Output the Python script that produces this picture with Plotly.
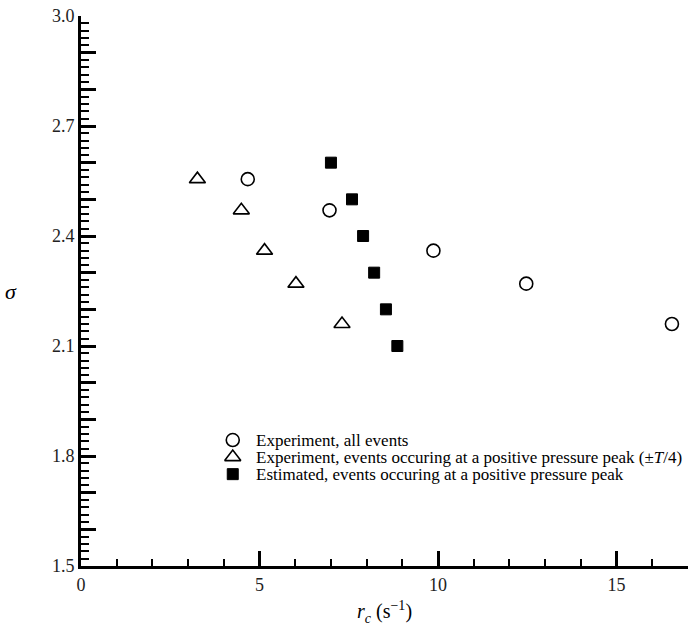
import plotly.graph_objects as go

# ---- data ----
exp_all_rc = [4.67, 6.96, 9.87, 12.47, 16.55]
exp_all_sigma = [2.555, 2.47, 2.36, 2.27, 2.16]

exp_peak_rc = [3.26, 4.49, 5.14, 6.02, 7.31]
exp_peak_sigma = [2.555, 2.47, 2.36, 2.27, 2.16]

est_peak_rc = [7.0, 7.59, 7.9, 8.21, 8.54, 8.86]
est_peak_sigma = [2.6, 2.5, 2.4, 2.3, 2.2, 2.1]

legend_labels = [
    "Experiment, all events",
    "Experiment, events occuring at a positive pressure peak (±<i>T</i>/4)",
    "Estimated, events occuring at a positive pressure peak",
]

y_major = [round(1.5 + 0.1 * i, 1) for i in range(16)]
y_text = [f"{v:.1f}" if i % 3 == 0 else "" for i, v in enumerate(y_major)]
x_major = [0, 5, 10, 15]
x_text = ["0", "5", "10", "15"]

FONT = "Liberation Serif"

circle_style = dict(symbol="circle-open", size=13, color="black", line=dict(width=1.6, color="black"))
tri_style = dict(symbol="triangle-up-open", size=14, color="black", line=dict(width=1.6, color="black"))
sq_style = dict(symbol="square", size=11, color="black", line=dict(width=1, color="black"))

fig = go.Figure()
fig.add_trace(go.Scatter(x=exp_all_rc, y=exp_all_sigma, mode="markers", marker=circle_style, showlegend=False))
fig.add_trace(go.Scatter(x=exp_peak_rc, y=exp_peak_sigma, mode="markers", marker=tri_style, showlegend=False))
fig.add_trace(go.Scatter(x=est_peak_rc, y=est_peak_sigma, mode="markers", marker=sq_style, showlegend=False))

# legend glyphs on an overlay axis (0..1 coordinates)
leg_y = [0.229, 0.198, 0.167]
leg_x_marker = 0.25
leg_x_text = 0.285
for st, ly in zip([circle_style, tri_style, sq_style], leg_y):
    fig.add_trace(go.Scatter(x=[leg_x_marker], y=[ly], mode="markers", marker=st,
                             xaxis="x2", yaxis="y2", showlegend=False, hoverinfo="skip"))
for lab, ly in zip(legend_labels, leg_y):
    fig.add_annotation(x=leg_x_text, y=ly, xref="paper", yref="paper", text=lab,
                       showarrow=False, xanchor="left", yanchor="middle",
                       font=dict(family=FONT, size=17, color="black"))

fig.update_layout(
    width=688, height=633,
    margin=dict(l=81, r=0, t=16, b=67),
    paper_bgcolor="white", plot_bgcolor="white",
    font=dict(family=FONT, size=18, color="black"),
    xaxis=dict(range=[0, 17], showgrid=False, zeroline=False,
               showline=True, linewidth=3, linecolor="black",
               tickmode="array", tickvals=x_major, ticktext=x_text,
               ticks="inside", ticklen=15, tickwidth=3, tickcolor="black",
               minor=dict(dtick=1, tick0=0, ticks="inside", ticklen=7, tickwidth=1.5, tickcolor="black", showgrid=False),
               tickfont=dict(family=FONT, size=18, color="#222")),
    yaxis=dict(range=[1.5, 3.0], showgrid=False, zeroline=False,
               showline=True, linewidth=3, linecolor="black",
               tickmode="array", tickvals=y_major, ticktext=y_text,
               ticks="inside", ticklen=15, tickwidth=3, tickcolor="black",
               minor=dict(dtick=0.02, tick0=1.5, ticks="inside", ticklen=8, tickwidth=1.5, tickcolor="black", showgrid=False),
               tickfont=dict(family=FONT, size=18, color="#222")),
    xaxis2=dict(range=[0, 1], overlaying="x", visible=False, fixedrange=True),
    yaxis2=dict(range=[0, 1], overlaying="y", visible=False, fixedrange=True),
)

fig.add_annotation(x=-0.115, y=0.5, xref="paper", yref="paper", text="<i>σ</i>",
                   showarrow=False, xanchor="center", yanchor="middle",
                   font=dict(family=FONT, size=22, color="black"))
fig.add_annotation(x=0.5, y=-0.083, xref="paper", yref="paper",
                   text="<i>r<sub>c</sub></i> (s<sup>−1</sup>)",
                   showarrow=False, xanchor="center", yanchor="middle",
                   font=dict(family=FONT, size=20, color="black"))

fig.write_html("out.html")
